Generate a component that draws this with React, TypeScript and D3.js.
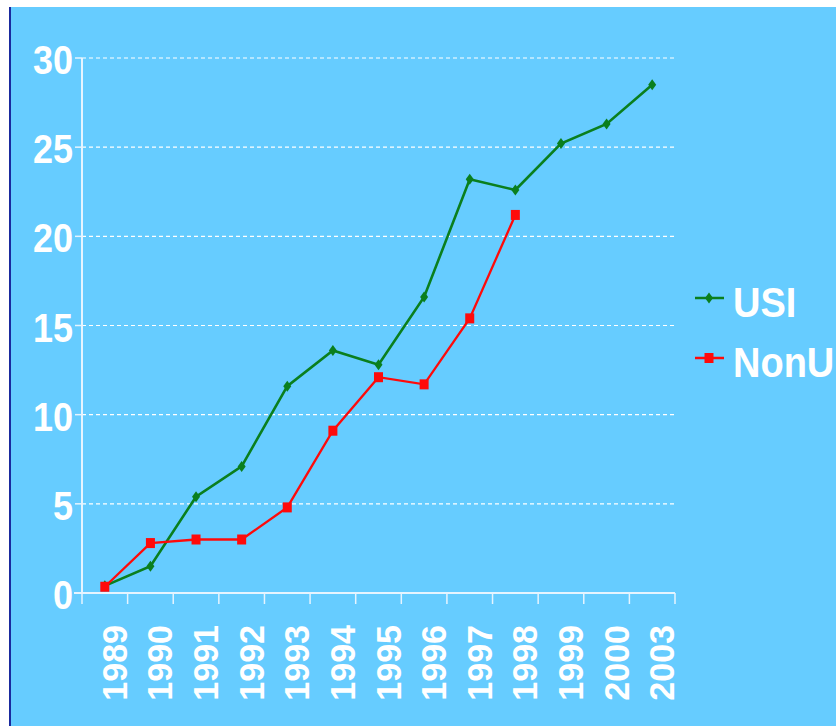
import React from 'react';
import * as d3 from 'd3';

const years = ['1989', '1990', '1991', '1992', '1993', '1994', '1995', '1996', '1997', '1998', '1999', '2000', '2003'];
const usiValues = [0.4, 1.5, 5.4, 7.1, 11.6, 13.6, 12.8, 16.6, 23.2, 22.6, 25.2, 26.3, 28.5];
const nonUValues = [0.35, 2.8, 3.0, 3.0, 4.8, 9.1, 12.1, 11.7, 15.4, 21.2];
const yTicks = [0, 5, 10, 15, 20, 25, 30];
const seriesNames = ['USI', 'NonU'];

const width = 836;
const height = 726;
const font = '"Liberation Sans", Arial, sans-serif';

const App: React.FC = () => {
  const x = d3.scaleBand<string>().domain(years).range([82, 675]);
  const y = d3.scaleLinear().domain([0, 30]).range([593, 58]);
  const cx = (yr: string) => (x(yr) ?? 0) + x.bandwidth() / 2;

  const line = d3.line<[string, number]>()
    .x(d => cx(d[0]))
    .y(d => y(d[1]));

  const usiPts: [string, number][] = usiValues.map((v, i) => [years[i], v]);
  const nonUPts: [string, number][] = nonUValues.map((v, i) => [years[i], v]);

  const green = '#0A7F1E';
  const red = '#FF0A0A';
  const axisColor = '#E6F4FF';

  const diamond = (px: number, py: number, key: string | number) => (
    <path key={key} d={`M${px},${py - 5.5}L${px + 4},${py}L${px},${py + 5.5}L${px - 4},${py}Z`} fill={green} />
  );
  const square = (px: number, py: number, key: string | number) => (
    <rect key={key} x={px - 4.5} y={py - 5} width={9} height={10} fill={red} />
  );

  return (
    <svg width={width} height={height} style={{ position: 'absolute', left: 0, top: 0 }}>
      <rect x={0} y={0} width={width} height={height} fill="#ffffff" />
      <rect x={9} y={7} width={width - 9} height={height - 7} fill="#66CCFF" />
      <rect x={9} y={7} width={2} height={height - 7} fill="#1A2A9E" />

      {/* gridlines */}
      {yTicks.filter(t => t > 0).map(t => (
        <line key={t} x1={82} x2={675} y1={y(t)} y2={y(t)}
          stroke="#ffffff" strokeWidth={1.2} strokeDasharray="4,3" />
      ))}

      {/* y axis */}
      <line x1={82} x2={82} y1={y(30)} y2={y(0)} stroke={axisColor} strokeWidth={2} />
      {yTicks.map(t => (
        <g key={t}>
          <line x1={75} x2={82} y1={y(t)} y2={y(t)} stroke={axisColor} strokeWidth={1.5} />
          <text transform={`translate(73,${y(t) + 16}) scale(1,1.12)`} textAnchor="end"
            fontFamily={font} fontWeight="bold" fontSize={36} fill="#ffffff">{t}</text>
        </g>
      ))}

      {/* x axis */}
      <line x1={74} x2={675} y1={y(0)} y2={y(0)} stroke={axisColor} strokeWidth={2} />
      {d3.range(years.length + 1).map(i => {
        const px = 82 + i * x.bandwidth();
        return <line key={i} x1={px} x2={px} y1={y(0)} y2={y(0) + 11} stroke={axisColor} strokeWidth={1.5} />;
      })}
      {years.map(yr => (
        <text key={yr} transform={`translate(${cx(yr) + 22},625) rotate(-90) scale(1.0,1.05)`} textAnchor="end"
          fontFamily={font} fontWeight="bold" fontSize={34} fill="#ffffff">{yr}</text>
      ))}

      {/* series */}
      <path d={line(usiPts) ?? ''} fill="none" stroke={green} strokeWidth={2.6} />
      {usiPts.map((d, i) => diamond(cx(d[0]), y(d[1]), i))}
      <path d={line(nonUPts) ?? ''} fill="none" stroke={red} strokeWidth={2.3} />
      {nonUPts.map((d, i) => square(cx(d[0]), y(d[1]), i))}

      {/* legend */}
      {seriesNames.map((name, i) => {
        const ly = 298 + i * 60;
        return (
          <g key={name}>
            <line x1={695} x2={724} y1={ly} y2={ly} stroke={i === 0 ? green : red} strokeWidth={2.5} />
            {i === 0 ? diamond(709, ly, 'm') : square(709, ly, 'm')}
            <text transform={`translate(733,${ly + 19}) scale(1,1.1)`}
              fontFamily={font} fontWeight="bold" fontSize={38} fill="#ffffff">{name}</text>
          </g>
        );
      })}
    </svg>
  );
};

export default App;
